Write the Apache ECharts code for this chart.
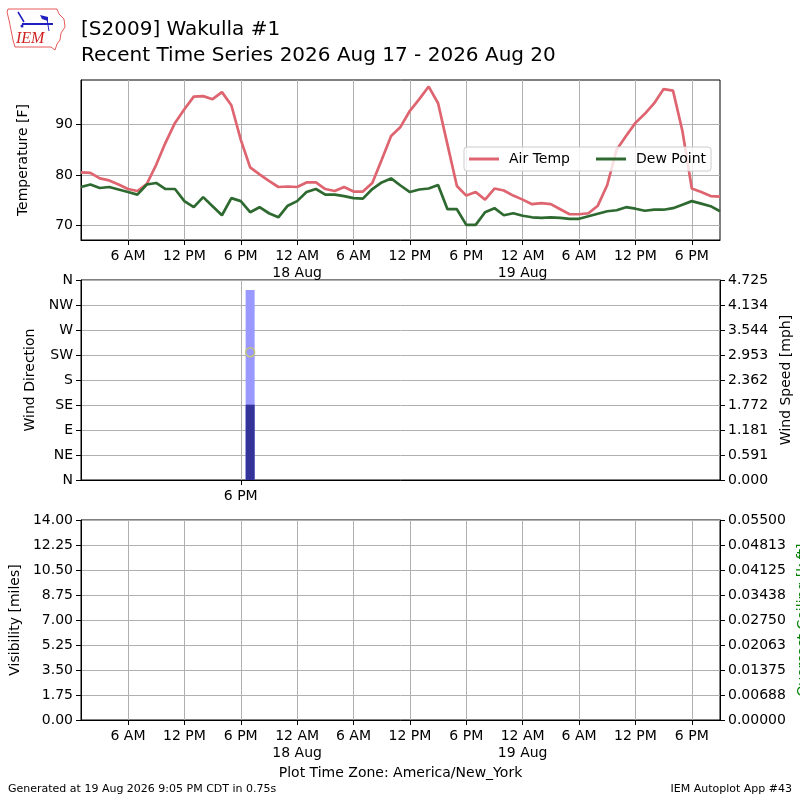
<!DOCTYPE html>
<html>
<head>
<meta charset="utf-8">
<script src="https://cdn.jsdelivr.net/npm/echarts@6/dist/echarts.min.js"></script>
<style>
  html, body { margin: 0; padding: 0; background: #fff; }
  #chart { width: 800px; height: 800px; }
</style>
</head>
<body>
<div id="chart"></div>
<script>
// hourly obs, first one 17 Aug 01:00 (x axis = hours since 17 Aug 00:00)
var firstHour = 1;
var airTemp = [80.5,80.4,79.3,78.9,78.1,77.2,76.8,78.2,82.0,86.4,
               90.3,93.0,95.5,95.6,95.0,96.4,93.8,87.0,81.5,80.1,
               78.8,77.6,77.7,77.6,78.5,78.5,77.2,76.8,77.6,76.7,
               76.7,78.4,83.0,87.7,89.5,92.7,95.0,97.5,94.2,86.0,
               77.8,75.9,76.6,75.1,77.3,76.9,75.9,75.1,74.2,74.4,
               74.2,73.2,72.2,72.2,72.4,73.9,78.0,85.0,87.7,90.3,
               92.1,94.2,97.0,96.7,88.7,77.3,76.6,75.8,75.7];
var dewPoint = [77.6,78.1,77.4,77.6,77.1,76.6,76.1,78.1,78.4,77.2,
                77.2,74.8,73.6,75.6,73.8,72.0,75.4,74.8,72.6,73.6,
                72.4,71.6,73.9,74.8,76.6,77.2,76.1,76.1,75.8,75.4,
                75.3,77.2,78.5,79.3,77.9,76.6,77.1,77.3,78.0,73.2,
                73.2,70.1,70.1,72.6,73.4,72.0,72.4,71.9,71.6,71.5,
                71.6,71.5,71.3,71.3,71.8,72.3,72.8,73.0,73.6,73.3,
                72.9,73.1,73.1,73.4,74.1,74.8,74.3,73.8,72.8];

// the only wind ob (17 Aug 7 PM)
var windHour = [19];
var windSpeed = [1.78];
var windGust = [4.49];
var windDir = [230];

var timeTicks = [6,12,18,24,30,36,42,48,54,60,66];
var windTimeTicks = [18];
var tempTicks = [70,80,90];
var dirLabels = ['N','NE','E','SE','S','SW','W','NW','N'];
var speedLabels = ['0.000','0.591','1.181','1.772','2.362','2.953','3.544','4.134','4.725'];
var visLabels = ['0.00','1.75','3.50','5.25','7.00','8.75','10.50','12.25','14.00'];
var ceilLabels = ['0.00000','0.00688','0.01375','0.02063','0.02750','0.03438','0.04125','0.04813','0.05500'];

var FONT = 'DejaVu Sans';
var gridColor = '#b0b0b0';

function pairs(vals){
    return vals.map(function(v,i){ return [firstHour+i, v]; });
}
function timeLabel(v){
    var h = ((v%24)+24)%24, d = Math.floor(v/24);
    var hh = (h%12===0) ? 12 : h%12;
    var s = hh+' '+(h<12 ? 'AM' : 'PM');
    if(h===0){ s += '\n'+(17+d)+' Aug'; }
    return s;
}
function xAx(idx, ticks, name){
    return {
        type:'value', gridIndex:idx, min:1, max:69,
        axisLine:{show:true, onZero:false, lineStyle:{color:'#000'}},
        axisTick:{show:true, length:5, customValues:ticks, lineStyle:{color:'#000'}},
        axisLabel:{customValues:ticks, formatter:timeLabel, color:'#000', fontSize:14,
                   fontFamily:FONT, margin:8, lineHeight:17},
        splitLine:{show:true, lineStyle:{color:gridColor, width:1}},
        name:name||'', nameLocation:'middle', nameGap:46,
        nameTextStyle:{color:'#000', fontSize:14, fontFamily:FONT}
    };
}
function yAx(idx, pos, o){
    var a = {
        type:'value', gridIndex:idx, position:pos,
        axisLine:{show:true, onZero:false, lineStyle:{color:'#000'}},
        axisTick:{show:true, length:5, lineStyle:{color:'#000'}},
        axisLabel:{color:'#000', fontSize:14, fontFamily:FONT, margin:8},
        splitLine:{show:pos==='left', lineStyle:{color:gridColor, width:1}},
        nameLocation:'middle', nameRotate:90,
        nameTextStyle:{color:'#000', fontSize:14, fontFamily:FONT}
    };
    for(var k in o){
        if(typeof o[k]==='object' && a[k] && !Array.isArray(o[k])){
            for(var j in o[k]) a[k][j] = o[k][j];
        } else a[k] = o[k];
    }
    return a;
}
function gridBox(top, h){
    return {left:81, top:top, width:639, height:h, show:true, borderColor:'#000', borderWidth:1,
            containLabel:false, outerBoundsMode:'none'};
}

var chart = echarts.init(document.getElementById('chart'));
var option = {
    animation:false,
    backgroundColor:'#fff',
    title:{
        text:'[S2009] Wakulla #1\nRecent Time Series 2026 Aug 17 - 2026 Aug 20',
        left:81, top:17, padding:0,
        textStyle:{fontFamily:FONT, fontSize:20, fontWeight:'normal', color:'#000', lineHeight:26}
    },
    legend:{
        data:['Air Temp','Dew Point'],
        left:464, top:147,
        padding:[5,5,5,5],
        itemWidth:30, itemHeight:3, itemGap:26,
        icon:'rect',
        backgroundColor:'rgba(255,255,255,0.8)',
        borderColor:'#cccccc', borderWidth:1, borderRadius:3,
        textStyle:{fontFamily:FONT, fontSize:14, color:'#000', padding:[0,0,0,5]}
    },
    grid:[ gridBox(80,160), gridBox(280,200), gridBox(520,200) ],
    xAxis:[
        xAx(0, timeTicks),
        xAx(1, windTimeTicks),
        xAx(2, timeTicks, 'Plot Time Zone: America/New_York')
    ],
    yAxis:[
        yAx(0,'left',{min:67.1, max:98.8, name:'Temperature [F]', nameGap:51,
            axisTick:{customValues:tempTicks}, axisLabel:{customValues:tempTicks}}),
        yAx(1,'left',{min:0, max:360, interval:45, name:'Wind Direction', nameGap:40,
            axisLabel:{formatter:function(v){ return dirLabels[Math.round(v/45)]; }}}),
        yAx(1,'right',{min:0, max:4.725, interval:0.590625, name:'Wind Speed [mph]', nameGap:56,
            axisLabel:{formatter:function(v){ return speedLabels[Math.round(v/0.590625)]; }}}),
        yAx(2,'left',{min:0, max:14, interval:1.75, name:'Visibility [miles]', nameGap:56,
            axisLabel:{formatter:function(v){ return visLabels[Math.round(v/1.75)]; }}}),
        yAx(2,'right',{min:0, max:0.055, interval:0.006875, name:'Overcast Ceiling [k ft]', nameGap:70,
            nameTextStyle:{color:'#008000'},
            axisLabel:{formatter:function(v){ return ceilLabels[Math.round(v/0.006875)]; }}})
    ],
    series:[
        {name:'Air Temp', type:'line', xAxisIndex:0, yAxisIndex:0, data:pairs(airTemp),
         showSymbol:false, lineStyle:{color:'#de6470', width:2.7}, itemStyle:{color:'#de6470'}},
        {name:'Dew Point', type:'line', xAxisIndex:0, yAxisIndex:0, data:pairs(dewPoint),
         showSymbol:false, lineStyle:{color:'#2e6a30', width:2.7}, itemStyle:{color:'#2e6a30'}},
        {name:'Gust', type:'bar', xAxisIndex:1, yAxisIndex:2, barWidth:9, barGap:'-100%',
         data:windHour.map(function(h,i){ return [h, windGust[i]]; }),
         itemStyle:{color:'#9999ff'}},
        {name:'Speed', type:'bar', xAxisIndex:1, yAxisIndex:2, barWidth:9, barGap:'-100%',
         data:windHour.map(function(h,i){ return [h, windSpeed[i]]; }),
         itemStyle:{color:'#333399'}},
        {name:'Direction', type:'scatter', xAxisIndex:1, yAxisIndex:1, symbolSize:9, z:5,
         data:windHour.map(function(h,i){ return [h, windDir[i]]; }),
         itemStyle:{color:'rgba(0,0,0,0)', borderColor:'#c4c47a', borderWidth:1.5, opacity:1}},
        {name:'Visibility', type:'line', xAxisIndex:2, yAxisIndex:3, data:[]}
    ],
    graphic:[
        // rough IEM logo
        {type:'polyline', shape:{points:[[8,9],[57,9],[59,14],[64,19],[65,27],[61,33],[60,40],[57,44],[55,50],[51,47],[15,47],[13,40],[11,30],[9,20],[7,12],[8,9]]},
         style:{stroke:'#e03030', fill:'none', lineWidth:0.8}},
        {type:'line', shape:{x1:22, y1:24, x2:53, y2:24}, style:{stroke:'#2020c0', lineWidth:2}},
        {type:'line', shape:{x1:18, y1:12, x2:24, y2:22}, style:{stroke:'#2020c0', lineWidth:1.5}},
        {type:'polygon', shape:{points:[[40,15],[48,17],[48,21],[42,19]]}, style:{fill:'#2020c0'}},
        {type:'line', shape:{x1:47, y1:19, x2:49, y2:31}, style:{stroke:'#2020c0', lineWidth:1}},
        {type:'circle', shape:{cx:22, cy:26, r:1.5}, style:{fill:'#2020c0'}},
        {type:'text', left:16, top:31, style:{text:'IEM', fill:'#d02020', font:'italic 16px "Liberation Serif", serif'}},
        {type:'text', left:8, top:784, style:{text:'Generated at 19 Aug 2026 9:05 PM CDT in 0.75s', fill:'#000', font:'11px "DejaVu Sans"'}},
        {type:'text', right:8, top:784, style:{text:'IEM Autoplot App #43', fill:'#000', font:'11px "DejaVu Sans"'}}
    ]
};
chart.setOption(option);
</script>
</body>
</html>
